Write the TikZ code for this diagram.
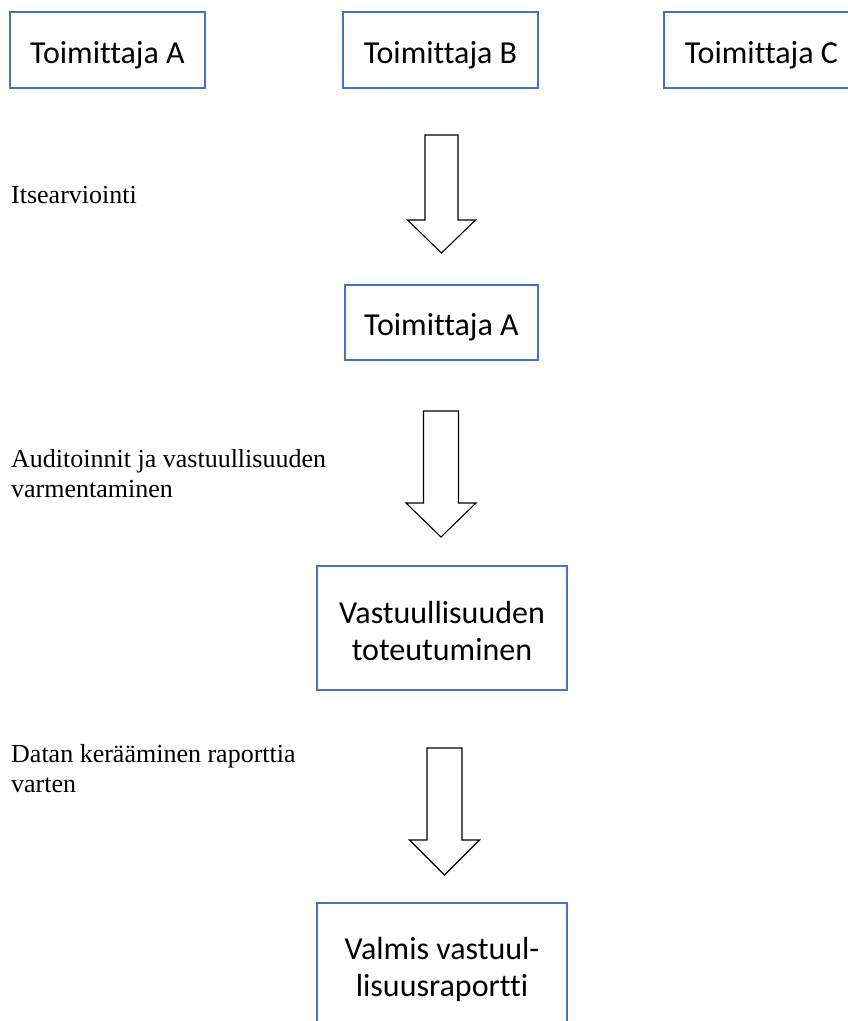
\documentclass[tikz,border=0pt]{standalone}
\usepackage{fontspec}
\setmainfont{Liberation Serif}
\newfontfamily\boxfont[RawFeature={-liga;-clig;-dlig}]{Carlito}
\definecolor{boxblue}{RGB}{68,114,196}
\tikzset{
  frame/.style={draw=boxblue, line width=1.2pt, rectangle, inner sep=0pt},
  boxtext/.style={font=\boxfont\fontsize{32}{37}\selectfont, inner sep=0pt, align=center},
  note/.style={font=\fontsize{26}{30}\selectfont, inner sep=0pt, align=left, anchor=base west},
  hollow/.style={draw=black, fill=white, line width=1.1pt, line join=miter}
}
% hollow block arrow pointing down: centre x, top y, neck y, tip y, shaft half width, head half width
\newcommand\downblock[7]{%
  \draw[hollow] (#2-#6,#3) coordinate (#1-tail) -- (#2+#6,#3) -- (#2+#6,#4) -- (#2+#7,#4)
    -- (#2,#5) coordinate (#1-tip) -- (#2-#7,#4) -- (#2-#6,#4) -- cycle;}
\begin{document}
\begin{tikzpicture}[x=1pt,y=-1pt]
\useasboundingbox (0,0) rectangle (847,1021);

% suppliers
\node[frame, minimum width=195, minimum height=76] (supA) at (107.5,50) {};
\node[boxtext, anchor=base] (supAt) at (107.5,63) {Toimittaja A};
\node[frame, minimum width=195, minimum height=76] (supB) at (440.5,50) {};
\node[boxtext, anchor=base] (supBt) at (440.5,63) {Toimittaja B};
\node[frame, minimum width=195, minimum height=76] (supC) at (761.5,50) {};
\node[boxtext, anchor=base] (supCt) at (761.5,63) {Toimittaja C};

% self assessment (multi-line nodes sit on the baseline of their last line)
\node[note] (lab1) at (11,203) {Itsearviointi};
\downblock{arr1}{441.5}{135}{220}{253}{16.5}{34}

\node[frame, minimum width=193, minimum height=75] (mid) at (441.5,322.5) {};
\node[boxtext, anchor=base] (midt) at (441.5,335) {Toimittaja A};

% audits
\node[note] (lab2) at (11,497) {Auditoinnit ja vastuullisuuden\\varmentaminen};
\downblock{arr2}{441}{411}{503}{537}{17.5}{35}

\node[frame, minimum width=250, minimum height=124] (resp) at (442,628) {};
\node[boxtext, anchor=base] (respt) at (442,660) {Vastuullisuuden\\toteutuminen};

% data collection
\node[note] (lab3) at (11,792) {Datan kerääminen raporttia\\varten};
\downblock{arr3}{444.5}{748}{840}{875}{17.5}{35}

\node[frame, minimum width=250, minimum height=124] (report) at (442,965) {};
\node[boxtext, anchor=base] (reportt) at (442,996) {Valmis vastuul-\\lisuusraportti};
\end{tikzpicture}
\end{document}
